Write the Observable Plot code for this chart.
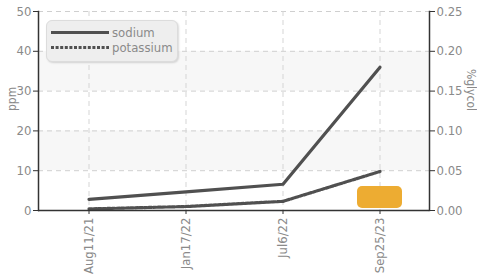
<!DOCTYPE html>
<html><head><meta charset="utf-8">
<script src="https://cdn.jsdelivr.net/npm/d3@7"></script>
<script src="https://cdn.jsdelivr.net/npm/@observablehq/plot@0.6"></script>
<style>
body{margin:0;background:#fff;}
#wrap{position:relative;width:477px;height:276px;font-family:"Liberation Sans Narrow","DejaVu Sans Condensed",Roboto,sans-serif;}
#legend{position:absolute;left:46px;top:20px;width:130px;height:40px;border-radius:6px;background:#eeeeee;border:1px solid #dcdcdc;box-shadow:1px 1px 2px rgba(0,0,0,0.15);}
#legend svg{position:absolute;left:0;top:0;}
</style></head>
<body><div id="wrap"></div>
<script>
const dates = ["Aug11/21","Jan17/22","Jul6/22","Sep25/23"];
const sodium = [2.8, 4.7, 6.6, 36.0];
const potassium = [0.4, 1.0, 2.3, 9.8];
const glycol = [null, null, null, 0.03];
const leftTicks = [0,10,20,30,40,50];
const bandLo = [10,30], bandHi = [20,40];
const font = '"Liberation Sans Narrow","DejaVu Sans Condensed",Roboto,sans-serif';

const rows = dates.map((d,i)=>({date:d, sodium:sodium[i], potassium:potassium[i], glycol:glycol[i]}));
const bands = bandLo.map((lo,i)=>({lo, hi:bandHi[i]}));
const scaleG = 200; // 0.25 %glycol == 50 ppm

const chart = Plot.plot({
  width:477, height:276,
  marginLeft:38, marginRight:48, marginTop:11, marginBottom:66,
  style:{fontFamily:font, fontSize:"13px", color:"#8a8a8a", background:"transparent", overflow:"visible"},
  x:{type:"band", domain:dates, paddingInner:0.54, paddingOuter:0.27, label:null},
  y:{domain:[0,50], label:null},
  marks:[
    Plot.rect(bands, {y1:"lo", y2:"hi", fill:"#f7f7f7"}),
    Plot.gridY(leftTicks, {stroke:"#cfcfcf", strokeOpacity:1, strokeDasharray:"5,4"}),
    Plot.ruleX(dates, {x:d=>d, stroke:"#d5d5d5", strokeDasharray:"5,4"}),
    Plot.barY(rows.filter(r=>r.glycol!=null), {x:"date", y:d=>d.glycol*scaleG, fill:"#edac32", rx:5, insetBottom:2}),
    Plot.line(rows, {x:"date", y:"sodium", stroke:"#505050", strokeWidth:3.2}),
    Plot.line(rows, {x:"date", y:"potassium", stroke:"#505050", strokeWidth:3.2, strokeDasharray:"3,1.6"}),
    Plot.ruleY([0], {stroke:"#333", strokeWidth:1.5}),
    Plot.frame({anchor:"left", stroke:"#333", strokeWidth:1.5}),
    Plot.frame({anchor:"right", stroke:"#333", strokeWidth:1.5}),
    Plot.axisY(leftTicks, {anchor:"left", tickSize:5, tickPadding:2, stroke:"#333", label:null}),
    Plot.axisY(leftTicks, {anchor:"right", tickSize:5, tickPadding:2, stroke:"#333", label:null, tickFormat:d=>(d/scaleG).toFixed(2)}),
    Plot.axisX({tickRotate:-90, tickSize:4, tickPadding:3, stroke:"#333", label:null}),
    Plot.text(["ppm"], {frameAnchor:"left", dx:-26, rotate:-90, fontSize:12, fill:"#8a8a8a"}),
    Plot.text(["%glycol"], {frameAnchor:"right", dx:41, rotate:90, fontSize:12, fill:"#8a8a8a"})
  ]
});
const wrap = document.getElementById("wrap");
wrap.appendChild(chart);

const leg = document.createElement("div");
leg.id = "legend";
leg.innerHTML = `<svg width="130" height="40">
  <line x1="4" x2="62" y1="11.5" y2="11.5" stroke="#505050" stroke-width="3.2"/>
  <text x="65" y="16" font-size="13" fill="#8a8a8a" font-family='${font}'>sodium</text>
  <line x1="4" x2="62" y1="26.5" y2="26.5" stroke="#505050" stroke-width="3.2" stroke-dasharray="3,1.6"/>
  <text x="65" y="31" font-size="13" fill="#8a8a8a" font-family='${font}'>potassium</text>
</svg>`;
wrap.appendChild(leg);
</script></body></html>
